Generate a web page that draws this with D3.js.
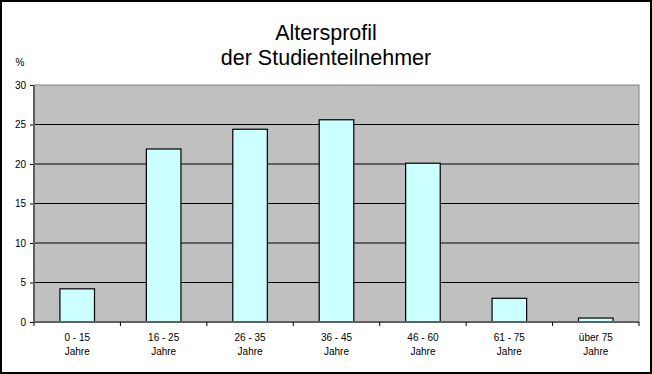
<!DOCTYPE html>
<html><head><meta charset="utf-8">
<script src="https://cdn.jsdelivr.net/npm/d3@7"></script>
<style>html,body{margin:0;padding:0;background:#fff;}svg{display:block;font-family:"Liberation Sans",Arial,sans-serif;}</style>
</head><body>
<svg id="c" width="652" height="374"></svg>
<script>
const categories = ["0 - 15|Jahre","16 - 25|Jahre","26 - 35|Jahre","36 - 45|Jahre","46 - 60|Jahre","61 - 75|Jahre","über 75|Jahre"];
const values = [4.2, 21.9, 24.4, 25.6, 20.1, 3.0, 0.5];
const yTicks = [0, 5, 10, 15, 20, 25, 30];
const titleLines = ["Altersprofil", "der Studienteilnehmer"];
const yUnit = "%";

const svg = d3.select("#c");
const L = 34, R = 639, T = 85, B = 322;
const x = d3.scaleBand().domain(categories).range([L, R]).paddingInner(0.6).paddingOuter(0.3);
const xb = d3.scaleLinear().domain([0, categories.length]).range([L, R]);
const y = d3.scaleLinear().domain([0, 30]).range([B, T]);

// frame
svg.append("rect").attr("x",1).attr("y",1).attr("width",650).attr("height",372)
  .attr("fill","#fff").attr("stroke","#000").attr("stroke-width",2);

// title
svg.append("g").selectAll("text").data(titleLines).join("text")
  .attr("x",326).attr("y",(d,i)=>40+i*25).attr("text-anchor","middle")
  .attr("font-size","21.5px").attr("fill","#000").text(d=>d);

// plot area
svg.append("rect").attr("x",L).attr("y",T).attr("width",R-L).attr("height",B-T)
  .attr("fill","#c0c0c0").attr("stroke","#808080").attr("stroke-width",1);

// gridlines
svg.append("g").selectAll("line").data(yTicks.filter(d=>d>0 && d<30)).join("line")
  .attr("x1",L).attr("x2",R).attr("y1",d=>y(d)).attr("y2",d=>y(d))
  .attr("stroke","#000").attr("stroke-width",1.2);

// bars
svg.append("g").selectAll("rect").data(values).join("rect")
  .attr("x",(d,i)=>x(categories[i])).attr("width",x.bandwidth())
  .attr("y",d=>y(d)).attr("height",d=>B-y(d))
  .attr("fill","#ccffff").attr("stroke","#000").attr("stroke-width",1.2);

// y axis
const ya = svg.append("g").attr("transform",`translate(${L},0)`)
  .call(d3.axisLeft(y).tickValues(yTicks).tickSize(4).tickPadding(4));
ya.select(".domain").remove();
ya.selectAll(".tick line").attr("stroke","#000");
ya.selectAll(".tick text").attr("font-size","10px").attr("font-family","Liberation Sans, Arial, sans-serif").attr("fill","#000");
svg.append("line").attr("x1",L).attr("x2",L).attr("y1",T).attr("y2",B+1).attr("stroke","#606060").attr("stroke-width",2);

// x axis
svg.append("line").attr("x1",L-1).attr("x2",R).attr("y1",B).attr("y2",B).attr("stroke","#606060").attr("stroke-width",2);
svg.append("g").selectAll("line").data(d3.range(categories.length+1)).join("line")
  .attr("x1",d=>xb(d)).attr("x2",d=>xb(d)).attr("y1",B).attr("y2",B+4)
  .attr("stroke","#000").attr("stroke-width",1);
const xl = svg.append("g").selectAll("text").data(categories).join("text")
  .attr("text-anchor","middle").attr("font-size","10px").attr("fill","#000")
  .attr("transform",d=>`translate(${x(d)+x.bandwidth()/2},0)`);
xl.selectAll("tspan").data(d=>d.split("|")).join("tspan")
  .attr("x",0).attr("y",(d,i)=>341+i*13.5).text(d=>d);

// unit
svg.append("text").attr("x",20).attr("y",66).attr("text-anchor","middle")
  .attr("font-size","10px").attr("fill","#000").text(yUnit);
</script>
</body></html>
